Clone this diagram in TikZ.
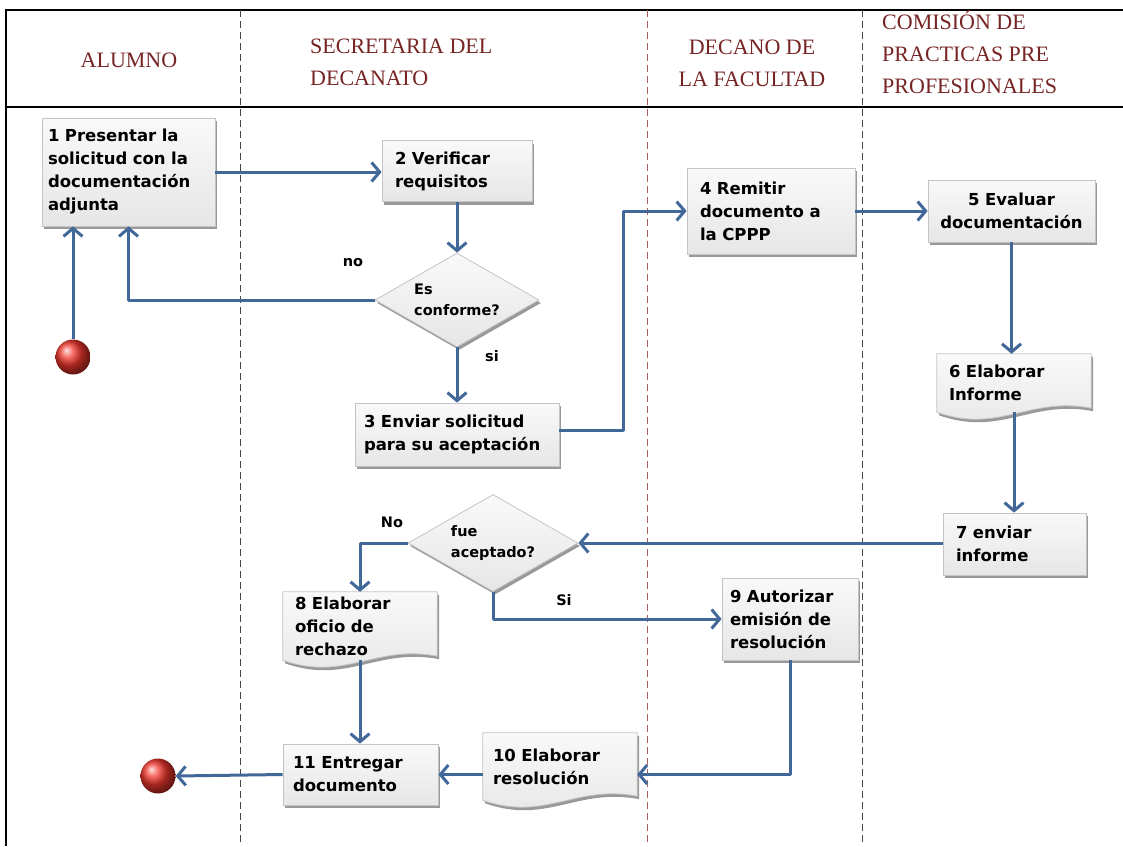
\documentclass[tikz,border=0pt]{standalone}
\usepackage{fontspec}
\newfontfamily\bodyfont{DejaVu Sans}
\newfontfamily\headfont{Liberation Serif}
\usetikzlibrary{arrows.meta,shapes.geometric,shadows,backgrounds,calc}
\definecolor{flow}{RGB}{66,104,154}
\definecolor{hdr}{RGB}{118,36,36}
\definecolor{boxline}{RGB}{196,196,196}
\definecolor{boxtop}{RGB}{249,249,249}
\definecolor{boxbot}{RGB}{230,230,230}
\definecolor{lanered}{RGB}{165,95,95}
\definecolor{lanegray}{RGB}{70,70,70}
\definecolor{ballred}{RGB}{240,55,45}
\begin{document}
\begin{tikzpicture}[x=1pt,y=-1pt,
  every node/.style={font=\bodyfont\bfseries\fontsize{16.5}{23}\selectfont},
  smallfont/.style={font=\bodyfont\bfseries\fontsize{14.5}{21}\selectfont},
  boxshadow/.style={drop shadow={shadow xshift=2pt,shadow yshift=-3pt,opacity=0.4,fill=black}},
  box/.style={draw=boxline,line width=0.8pt,top color=boxtop,bottom color=boxbot,boxshadow,align=left,inner ysep=2pt},
  docnode/.style={align=left,inner ysep=2pt},
  docshape/.style={draw=boxline,line width=0.8pt,top color=boxtop,bottom color=boxbot,boxshadow},
  dia/.style={diamond,draw=boxline,line width=0.8pt,top color=boxtop,bottom color=boxbot,boxshadow,align=left,inner sep=0pt,shape aspect=1.75,smallfont},
  lbl/.style={inner sep=0pt,smallfont},
  hdrtext/.style={font=\headfont\fontsize{22}{32}\selectfont,text=hdr,inner sep=0pt},
  lane/.style={line width=0.9pt,dash pattern=on 7pt off 4pt},
  arr/.style={draw=flow,line width=3pt,line join=round,-{Straight Barb[length=8pt,width=19pt]}},
  endpt/.style={circle,minimum size=35pt,inner sep=0pt,shading=ball,ball color=ballred}]

\useasboundingbox (0,0) rectangle (1123,846);

% frame and lanes
\draw[line width=2.6pt] (6,846) -- (6,10) -- (1123,10);
\draw[line width=2pt] (6,107) -- (1123,107);
\draw[lane,lanegray] (240,10) -- (240,846);
\draw[lane,lanered] (647,10) -- (647,846);
\draw[lane,lanegray] (862,10) -- (862,846);

% headers
\node[hdrtext] (h1) at (129,60) {ALUMNO};
\node[hdrtext,anchor=west,align=left] (h2) at (310,62) {SECRETARIA DEL\\DECANATO};
\node[hdrtext,align=center] (h3) at (752,63) {DECANO DE\\LA FACULTAD};
\node[hdrtext,anchor=west,align=left] (h4) at (882,52) {COMISIÓN DE\\PRACTICAS PRE\\PROFESIONALES};

% process boxes
\node[box,minimum width=173pt,minimum height=108pt,text width=161pt,inner xsep=6pt] (b1) at (128.5,172) {1 Presentar la\\solicitud con la\\documentación\\adjunta};
\node[box,minimum width=150pt,minimum height=61pt,text width=124pt,inner xsep=13pt] (b2) at (457,171) {2 Verificar\\requisitos};
\node[dia,minimum width=164pt,minimum height=94pt] (d1) at (457,300) {Es\\conforme?};
\node[box,minimum width=204pt,minimum height=63pt,text width=186pt,inner xsep=9pt] (b3) at (457,434.5) {3 Enviar solicitud\\para su aceptación};
\node[box,minimum width=168pt,minimum height=86pt,text width=142pt,inner xsep=13pt] (b4) at (771,211) {4 Remitir\\documento a\\la CPPP};
\node[box,minimum width=167pt,minimum height=62pt,text width=155pt,inner xsep=6pt,align=center] (b5) at (1011.5,211) {5 Evaluar\\documentación};
\node[docnode,minimum width=154pt,minimum height=58pt,text width=130pt,inner xsep=12pt] (b6) at (1014,383) {6 Elaborar\\Informe};
\node[box,minimum width=143pt,minimum height=62pt,text width=117pt,inner xsep=13pt] (b7) at (1014.5,544) {7 enviar\\informe};
\node[dia,minimum width=170pt,minimum height=97pt] (d2) at (493,543) {fue\\aceptado?};
\node[docnode,minimum width=154pt,minimum height=68pt,text width=130pt,inner xsep=12pt] (b8) at (360,626) {8 Elaborar\\oficio de\\rechazo};
\node[box,minimum width=136pt,minimum height=82pt,text width=120pt,inner xsep=8pt] (b9) at (790,619) {9 Autorizar\\emisión de\\resolución};
\node[docnode,minimum width=154pt,minimum height=67pt,text width=134pt,inner xsep=10pt] (b10) at (560,766.5) {10 Elaborar\\resolución};
\node[box,minimum width=155pt,minimum height=61pt,text width=135pt,inner xsep=10pt] (b11) at (360.5,774.5) {11 Entregar\\documento};

% document shapes with wavy bottom
\begin{scope}[on background layer]
\foreach \n in {b6,b8,b10}{
  \path[docshape] (\n.north west) -- (\n.north east) -- ($(\n.south east)+(0,-4)$)
    .. controls ($(\n.south east)+(-62,-16)$) and ($(\n.south west)+(62,22)$) .. (\n.south west) -- cycle;
}
\end{scope}

% start / end
\node[endpt] (s) at (73,357) {};
\node[endpt] (e) at (158,776) {};

% labels
\node[lbl] (lno) at (353,263) {no};
\node[lbl] (lsi) at (492,356) {si};
\node[lbl] (lNo) at (392,522) {No};
\node[lbl] (lSi) at (564,600) {Si};

% connectors
\draw[arr] (b1.east) -- (b1.east -| b2.west);
\draw[arr] (b2.south) -- (d1.north);
\draw[arr] (d1.west) -| (b1.south);
\draw[arr] (s.north) -- (s.north |- b1.south);
\draw[arr] (d1.south) -- (b3.north);
\draw[arr] ($(b3.east)+(0,-4)$) -| ($(b3.east)!0.5!(b4.west)$) |- (b4.west);
\draw[arr] (b4.east) -- (b5.west);
\draw[arr] (b5.south) -- (b5.south |- b6.north);
\draw[arr] (b6.south) -- (b6.south |- b7.north);
\draw[arr] (d2.east -| b7.west) -- (d2.east);
\draw[arr] (d2.west) -| (b8.north);
\draw[arr] (d2.south) |- (b9.west);
\draw[arr] (b9.south) |- (b11.east -| b10.east);
\draw[arr] (b11.east -| b10.west) -- (b11.east);
\draw[arr] (b8.south) -- (b8.south |- b11.north);
\draw[arr] (b11.west) -- (e.east);
\end{tikzpicture}
\end{document}
